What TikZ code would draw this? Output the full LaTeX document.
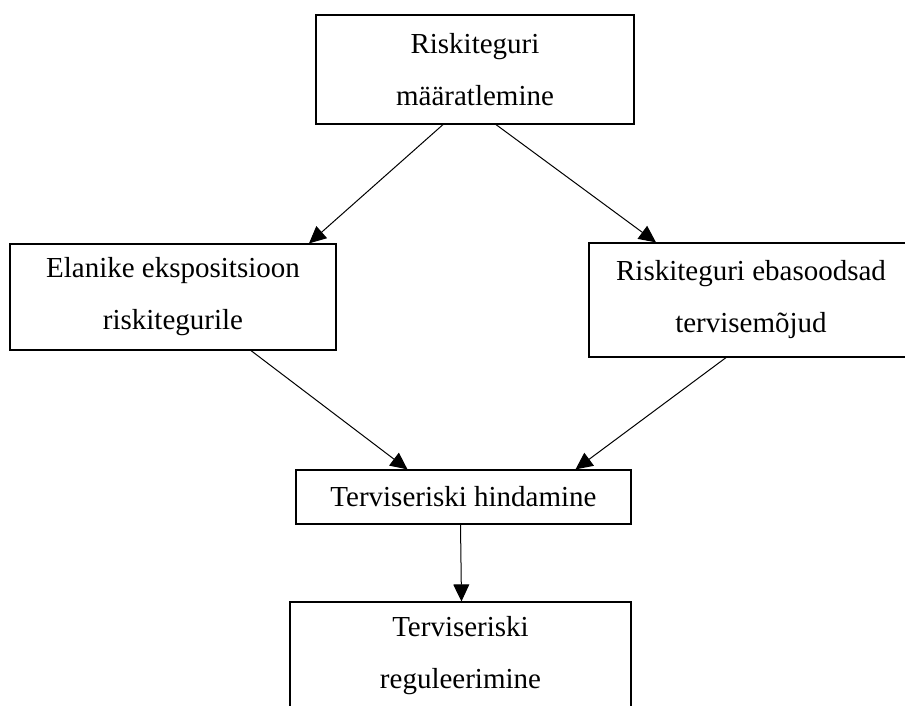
\documentclass[tikz,border=0pt]{standalone}
\usepackage{fontspec}
\setmainfont{Liberation Serif}
\usetikzlibrary{arrows.meta, positioning, calc}

\begin{document}
\begin{tikzpicture}[
    x=1pt, y=-1pt,
    box/.style={rectangle, draw=black, line width=1.2pt, inner sep=0pt, align=center, font=\fontsize{29}{52}\selectfont},
    arrow/.style={line width=1pt, -{Triangle[length=17pt, width=16pt]}}
]
    \useasboundingbox (0,0) rectangle (905,706);

    \node[box, minimum width=318pt, minimum height=109pt] (risk) at (475,69.5) {Riskiteguri\\määratlemine};
    \node[box, minimum width=326pt, minimum height=106pt] (expo) at (173,297) {Elanike ekspositsioon\\riskitegurile};
    \node[box, minimum width=324pt, minimum height=114pt] (effect) at (751,300) {Riskiteguri ebasoodsad\\tervisemõjud};
    \node[box, minimum width=335pt, minimum height=54pt] (assess) at (463.5,497) {Terviseriski hindamine};
    \node[box, minimum width=341pt, minimum height=108pt] (regul) at (460.5,656) {Terviseriski\\reguleerimine};

    \draw[arrow] ([xshift=-32pt]risk.south) -- ([xshift=136pt]expo.north);
    \draw[arrow] ([xshift=21pt]risk.south) -- ([xshift=-95pt]effect.north);
    \draw[arrow] ([xshift=78pt]expo.south) -- ([xshift=-56pt]assess.north);
    \draw[arrow] ([xshift=-25pt]effect.south) -- ([xshift=112pt]assess.north);
    \draw[arrow] ([xshift=-3pt]assess.south) -- ([xshift=1pt]regul.north);

\end{tikzpicture}
\end{document}
